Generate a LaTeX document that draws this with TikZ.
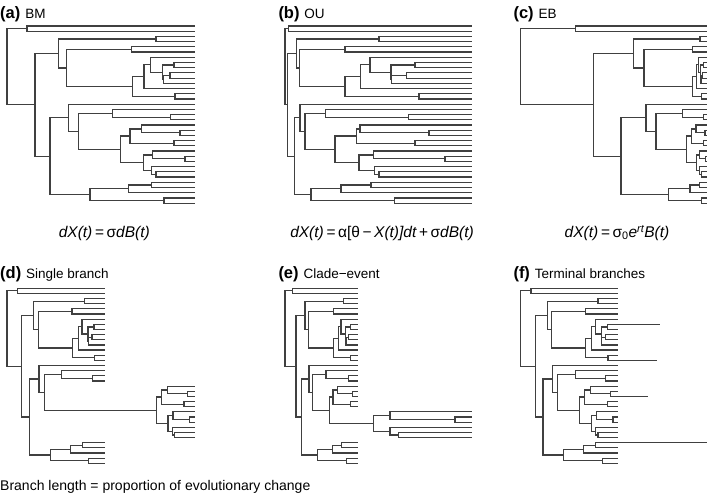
\documentclass[tikz,border=0pt]{standalone}
\usepackage{fontspec}
\setmainfont{Liberation Sans}
\usetikzlibrary{calc}
\makeatletter
\newcommand\setdp[2]{\foreach \k/\v in {#2} {\expandafter\xdef\csname dp@#1@\k\endcsname{\v}}}
\newcommand\setab[2]{\foreach \k/\v in {#2} {\expandafter\xdef\csname ab@#1@\k\endcsname{\v}}}
\newcommand\setex[2]{\foreach \k/\v in {#2} {\expandafter\xdef\csname ex@#1@\k\endcsname{\v}}}
\newcommand\phset[6]{\gdef\phP{#1}\gdef\phN{#2}\gdef\phX{#3}\gdef\phS{#4}\gdef\phY{#5}\gdef\phD{#6}}
\newcommand\phx[2]{% node name, depth key
  \ifcsname ab@\phN @#1\endcsname
    \edef\phres{\csname ab@\phN @#1\endcsname}%
  \else
    \pgfmathsetmacro\phres{\phX+\phS*\csname dp@\phP @#2\endcsname}%
    \ifcsname ex@\phN @#1\endcsname
      \pgfmathsetmacro\phres{\phres+\csname ex@\phN @#1\endcsname}%
    \fi
  \fi}
\newcommand\phleaf[1]{%
  \phx{l#1}{tip}%
  \pgfmathsetmacro\phyy{\phY+(#1-1)*\phD}%
  \coordinate (\phN l#1) at (\phres,\phyy);}
\newcommand\phnode[3]{%
  \phx{#1}{#1}%
  \path let \p1=(\phN #2), \p2=(\phN #3) in (\phres pt,{(\y1+\y2)/2}) coordinate (\phN #1);
  \draw[br] (\phN #1) |- (\phN #2);
  \draw[br] (\phN #1) |- (\phN #3);}
\newcommand\phtree{%
  \foreach \k in {1,...,35} {\phleaf{\k}}
  \phnode{n1}{l1}{l2}
  \phnode{n11}{l8}{l9}
  \phnode{n13}{l10}{l11}
  \phnode{n12}{n13}{l12}
  \phnode{n10}{n11}{n12}
  \phnode{n9}{l7}{n10}
  \phnode{n8}{n9}{l13}
  \phnode{n14}{l14}{l15}
  \phnode{n7}{n8}{n14}
  \phnode{n6}{l5}{l6}
  \phnode{n5}{n6}{n7}
  \phnode{n4}{l3}{l4}
  \phnode{n3}{n4}{n5}
  \phnode{n24}{l18}{l19}
  \phnode{n23}{l17}{n24}
  \phnode{n28}{l21}{l22}
  \phnode{n27}{l20}{n28}
  \phnode{n29}{l23}{l24}
  \phnode{n26}{n27}{n29}
  \phnode{n32}{l26}{l27}
  \phnode{n31}{l25}{n32}
  \phnode{n34}{l29}{l30}
  \phnode{n33}{l28}{n34}
  \phnode{n30}{n31}{n33}
  \phnode{n25}{n26}{n30}
  \phnode{n22}{n23}{n25}
  \phnode{n21}{l16}{n22}
  \phnode{n42}{l31}{l32}
  \phnode{n41}{n42}{l33}
  \phnode{n43}{l34}{l35}
  \phnode{n40}{n41}{n43}
  \phnode{n20}{n21}{n40}
  \phnode{n2}{n3}{n20}
  \phnode{r}{n1}{n2}}
% depths, panel (a)
\setdp{a}{r/0,tip/188,n1/20,n2/28,n3/51.3,n4/149,n5/59.7,n6/124.7,n7/125.3,n8/137,n9/143.7,
  n10/155.3,n11/167,n12/156.3,n13/163,n14/168,n20/43,n21/61.3,n22/71.3,n23/105.3,n24/163.7,
  n25/113.7,n26/123,n27/134.7,n28/173,n29/167,n30/136.3,n31/145.7,n32/178,n33/144.7,n34/149,
  n40/83,n41/121.3,n42/144.7,n43/157}
% depths, panel (b)
\setdp{b}{r/0,tip/187.3,n1/3.3,n2/2.5,n3/11.7,n4/94,n5/14.3,n6/60,n7/60,n8/75.7,n9/85,
  n10/106,n11/130,n12/106.7,n13/121.7,n14/134,n20/9.3,n21/15,n22/20,n23/40.7,n24/123.3,
  n25/50,n26/71.7,n27/75,n28/144,n29/130,n30/74,n31/88.3,n32/160,n33/89.3,n34/94,
  n40/26,n41/56,n42/86,n43/109.3}
% depths, panel (c)
\setdp{c}{r/0,tip/186.6,n1/55,n2/72.6,n3/112.6,n4/179.3,n5/123.3,n6/172,n7/172,n8/176,n9/177.6,
  n10/180,n11/182.6,n12/180.3,n13/182,n14/181,n20/100.3,n21/125.3,n22/135.3,n23/162,n24/182.6,
  n25/166,n26/171,n27/175.3,n28/184.3,n29/182.6,n30/176,n31/178.6,n32/185,n33/178.6,n34/181,
  n40/147.6,n41/169.3,n42/178.6,n43/181}
% (d) single branch: clade shifted
\setex{d}{n25/90,n26/90,n27/90,n28/90,n29/90,n30/90,n31/90,n32/90,n33/90,n34/90,
  l20/90,l21/90,l22/90,l23/90,l24/90,l25/90,l26/90,l27/90,l28/90,l29/90,l30/90}
% (e) clade event: stretched clade
\setab{e}{n30/373.3,n31/390,n32/455,n33/390,n34/398.3,
  l25/471.7,l26/471.7,l27/471.7,l28/471.7,l29/471.7,l30/471.7}
% (f) terminal branches
\setab{f}{l8/660,l15/657,l22/648,l31/707}
\makeatother
\begin{document}
\begin{tikzpicture}[x=1pt,y=-1pt,
  br/.style={draw=black!75,line width=1.2pt},
  tag/.style={anchor=base west,inner sep=0pt,font=\bfseries\fontsize{16.5}{20}\selectfont},
  ttl/.style={anchor=base west,inner sep=0pt,font=\fontsize{13.5}{16}\selectfont},
  eqn/.style={anchor=base,inner sep=0pt,font=\fontsize{15.5}{18}\selectfont}]
\useasboundingbox (0,0) rectangle (709,496);
\fill[white] (0,0) rectangle (709,496);
\phset{a}{a}{7}{1}{26}{5.21}\phtree
\phset{b}{b}{285}{1}{26}{5.21}\phtree
\phset{c}{c}{520.7}{1}{26}{5.21}\phtree
\phset{a}{d}{7}{0.5213}{288.3}{5.147}\phtree
\phset{a}{e}{285}{0.39}{288.3}{5.147}\phtree
\phset{a}{f}{520.7}{0.519}{288.3}{5.147}\phtree
\node[tag] (tga) at (0,18.8) {(a)};
\node[ttl] (tla) at ([xshift=4.5pt]tga.base east) {BM};
\node[tag] (tgb) at (278.3,18.8) {(b)};
\node[ttl] (tlb) at ([xshift=4.5pt]tgb.base east) {OU};
\node[tag] (tgc) at (513.3,18.8) {(c)};
\node[ttl] (tlc) at ([xshift=4.5pt]tgc.base east) {EB};
\node[tag] (tgd) at (0,278.8) {(d)};
\node[ttl] (tld) at ([xshift=4.5pt]tgd.base east) {Single branch};
\node[tag] (tge) at (278.3,278.8) {(e)};
\node[ttl] (tle) at ([xshift=4.5pt]tge.base east) {Clade−event};
\node[tag] (tgf) at (513.3,278.8) {(f)};
\node[ttl] (tlf) at ([xshift=4.5pt]tgf.base east) {Terminal branches};
\node[eqn] (eqa) at (104.3,237.3) {\itshape dX(t)\,=\,\upshape σ\itshape dB(t)};
\node[eqn] (eqb) at (382,237.3) {\itshape dX(t)\,=\,\upshape α[θ\,−\,\itshape X(t)]dt\,+\,\upshape σ\itshape dB(t)};
\node[eqn] (eqc) at (617,237.3) {\itshape dX(t)\,=\,\upshape σ\textsubscript{0}\itshape e\textsuperscript{rt}B(t)};
\node[anchor=base west,inner sep=0pt,font=\fontsize{14}{16}\selectfont] (foot) at (0,490.7) {Branch length = proportion of evolutionary change};
\end{tikzpicture}
\end{document}
